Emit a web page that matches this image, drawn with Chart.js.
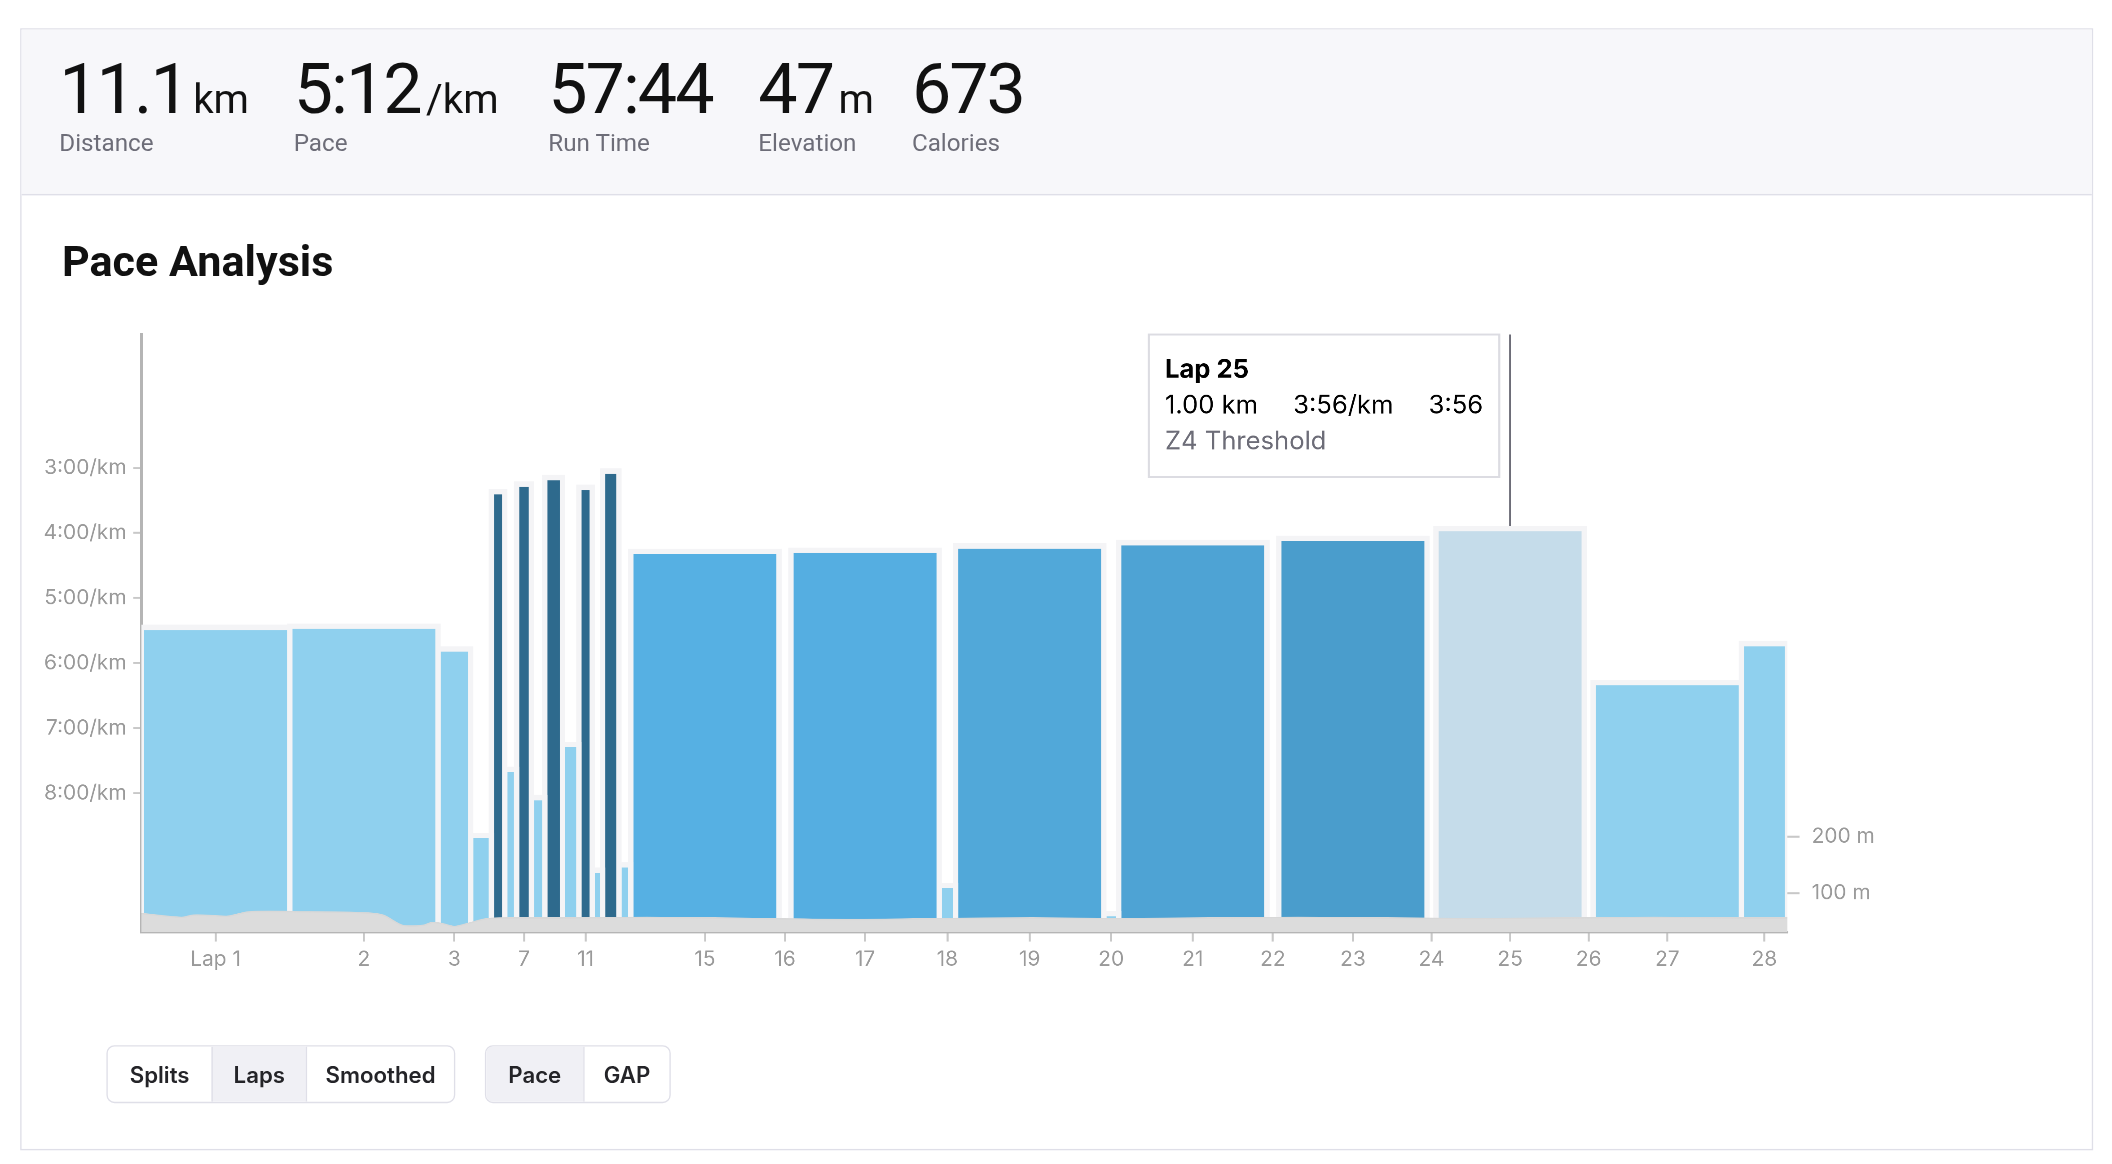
<!DOCTYPE html>
<html>
<head>
<meta charset="utf-8">
<title>Pace Analysis</title>
<script src="https://cdn.jsdelivr.net/npm/chart.js@4.4.1/dist/chart.umd.min.js"></script>
<style>
  html, body { margin: 0; padding: 0; background: #fff; overflow: hidden; }
  #stage {
    position: absolute; left: 0; top: 0; width: 1568px; height: 864px;
    transform-origin: 0 0; transform: scale(1.346939);
    font-family: Roboto, "Noto Sans", sans-serif; color: #242428;
  }
  .card { position: absolute; left: 15px; top: 21px; width: 1539px; height: 833px;
          box-sizing: border-box; border: 1px solid #dfdfe8; }
  .head { position: absolute; left: 16px; top: 22px; width: 1537px; height: 123px;
          box-sizing: border-box; background: #f7f7fa; border-bottom: 1px solid #dfdfe8; }
  .num { position: absolute; top: 41px; font-size: 52px; line-height: 52px; letter-spacing: -1.5px; color: #111; white-space: nowrap; }
  .num span { font-size: 30px; letter-spacing: 0; margin-left: 4px; }
  .lbl { position: absolute; top: 97px; font-size: 18px; line-height: 18px; color: #6d6d78; }
  h2 { position: absolute; left: 46px; top: 178px; margin: 0; font-size: 32px; line-height: 32px; font-weight: 700; color: #111; }
  #chartBox { position: absolute; left: 15px; top: 230px; width: 1538px; height: 520px; }
  .grp { position: absolute; top: 776px; height: 43px; display: flex; box-sizing: border-box;
         border: 1.5px solid #dfdfe8; border-radius: 6px; overflow: hidden;
         font-family: Inter, sans-serif; font-weight: 600; font-size: 16.5px; color: #242428; }
  .grp div { display: flex; align-items: center; justify-content: center; height: 100%; box-sizing: border-box; }
  .grp div + div { border-left: 1.5px solid #dfdfe8; }
  .grp .on { background: #f0f0f5; }
</style>
</head>
<body>
<div id="stage">
  <div class="card"></div>
  <div class="head"></div>

  <div class="num" style="left:44px">11.1<span>km</span></div>
  <div class="lbl" style="left:44px">Distance</div>
  <div class="num" style="left:218px">5:12<span>/km</span></div>
  <div class="lbl" style="left:218px">Pace</div>
  <div class="num" style="left:407px">57:44</div>
  <div class="lbl" style="left:407px">Run Time</div>
  <div class="num" style="left:563px">47<span>m</span></div>
  <div class="lbl" style="left:563px">Elevation</div>
  <div class="num" style="left:677px">673</div>
  <div class="lbl" style="left:677px">Calories</div>

  <h2>Pace Analysis</h2>

  <div id="chartBox"><canvas id="paceChart" width="1538" height="520"></canvas></div>

  <div class="grp" style="left:79px">
    <div style="width:77px">Splits</div>
    <div class="on" style="width:70px">Laps</div>
    <div style="width:110px">Smoothed</div>
  </div>
  <div class="grp" style="left:360px">
    <div class="on" style="width:72px">Pace</div>
    <div style="width:64px">GAP</div>
  </div>
</div>

<script>
// ---------------- data ----------------
// lap distance in km
const lapDistances = [1.00, 1.00, 0.22, 0.14, 0.09, 0.08, 0.10, 0.09, 0.12, 0.11,
                      0.09, 0.07, 0.11, 0.08, 1.00, 0.08, 1.00, 0.11, 1.00, 0.10,
                      1.00, 0.08, 1.00, 0.06, 1.00, 0.06, 1.00, 0.31];
// lap pace in seconds per km
const lapPaces = [327, 326, 347, 519, 202, 458, 195, 484, 189, 435,
                  198, 551, 183, 546, 257, 690, 256, 565, 252, 591,
                  249, 700, 245, 720, 236, 720, 378, 342];
// laps that get a label on the distance axis
const labeledLaps = [1, 2, 3, 7, 11, 15, 16, 17, 18, 19, 20, 21, 22, 23, 24, 25, 26, 27, 28];
const paceTicks = [180, 240, 300, 360, 420, 480];
const elevTicks = [100, 200];
// elevation profile
const elevKm = [0, 0.27, 0.35, 0.5, 0.58, 0.73, 1.08, 1.51, 1.63, 1.76, 1.90, 1.96, 2.03, 2.11, 2.21,
                2.34, 2.8, 3.41, 4.19, 4.78, 5.36, 6.01, 6.6, 7.2, 7.8, 8.4, 9.0, 9.6, 10.2, 10.8, 11.1];
const elevM = [64, 57, 61, 60, 59, 67, 67, 65, 61, 43, 43, 48, 46, 41, 47,
               55, 56, 57, 55, 53, 55, 56, 55, 56, 57, 56, 55, 56, 57, 56, 56];
const activeLap = 25;

// axis ranges
const paceMin = 57, paceMax = 608;
const elevMin = 31, elevMax = 1088;

// ---------------- helpers ----------------
function fmtTime(sec) {
  sec = Math.round(sec);
  const m = Math.floor(sec / 60);
  const s = sec - m * 60;
  return m + ':' + String(s).padStart(2, '0');
}

function zoneName(pace) {
  if (pace < 210) return 'Z6 Anaerobic';
  if (pace < 230) return 'Z5 VO2 Max';
  if (pace < 250) return 'Z4 Threshold';
  if (pace < 280) return 'Z3 Tempo';
  if (pace < 340) return 'Z2 Endurance';
  return 'Z1 Active Recovery';
}

function lapColor(pace, lap) {
  if (lap === activeLap) return '#c5dcea';
  if (pace < 225) return '#2e6a8d';
  if (pace > 300) return '#8fd0ee';
  const t = Math.min(1, Math.max(0, (257 - pace) / 12));
  const a = [86, 176, 227], b = [74, 157, 204];
  const c = a.map((v, k) => Math.round(v + (b[k] - v) * t));
  return 'rgb(' + c.join(',') + ')';
}

const lapStarts = [];
const lapEnds = [];
let run = 0;
lapDistances.forEach(d => { lapStarts.push(run); run += d; lapEnds.push(run); });
const totalKm = run;
const lapCenters = lapStarts.map((s, i) => (s + lapEnds[i]) / 2);

// ---------------- datasets ----------------
const lapDatasets = lapPaces.map((pace, i) => ({
  label: 'Lap ' + (i + 1),
  yAxisID: 'y',
  data: [
    { x: lapStarts[i], y: paceMax },
    { x: lapStarts[i], y: pace },
    { x: lapEnds[i], y: pace },
    { x: lapEnds[i], y: paceMax }
  ],
  fill: 'start',
  backgroundColor: lapColor(pace, i + 1),
  borderColor: '#f4f4f6',
  borderWidth: 4,
  borderJoinStyle: 'miter',
  pointRadius: 0,
  pointHoverRadius: 0,
  pointHitRadius: 0,
  tension: 0,
  order: 1
}));

const elevDataset = {
  label: 'Elevation',
  yAxisID: 'yElev',
  data: elevKm.map((d, i) => ({ x: d, y: elevM[i] })),
  fill: 'start',
  backgroundColor: '#dcdcdc',
  borderColor: '#d8d8d8',
  borderWidth: 1,
  pointRadius: 0,
  pointHoverRadius: 0,
  tension: 0.3,
  order: 0
};

// tooltip sits at the top of the chart, just left of the marker line
let tipShift = 0;
Chart.Tooltip.positioners.lapTop = function (items) {
  if (!items.length) return false;
  const chart = this.chart;
  const lap = items[0].datasetIndex; // dataset 0 is elevation, so dataset n is lap n
  const lineX = chart.scales.x.getPixelForValue(lapCenters[lap - 1]);
  return { x: lineX - 8 + tipShift, y: chart.chartArea.top };
};

const markerLine = {
  id: 'markerLine',
  afterDatasetsDraw(chart) {
    const i = activeLap - 1;
    const x = chart.scales.x.getPixelForValue(lapCenters[i]);
    const yBar = chart.scales.y.getPixelForValue(lapPaces[i]);
    const ctx = chart.ctx;
    ctx.save();
    ctx.strokeStyle = '#6d6d78';
    ctx.lineWidth = 1.5;
    ctx.beginPath();
    ctx.moveTo(x, chart.chartArea.top);
    ctx.lineTo(x, yBar - 2);
    ctx.stroke();
    ctx.restore();
  }
};

const tickFont = { family: 'Inter', size: 15.5 };
const tickColor = '#9a9a9a';

const ctx = document.getElementById('paceChart');
const paceChart = new Chart(ctx, {
  type: 'line',
  data: { datasets: [elevDataset, ...lapDatasets] },
  options: {
    // fixed size: the page is scaled with a css transform
    responsive: false,
    devicePixelRatio: 3,
    animation: false,
    events: [],
    layout: { padding: { top: 18, left: 0, right: 0, bottom: 0 } },
    scales: {
      x: {
        type: 'linear',
        min: 0,
        max: totalKm,
        afterBuildTicks: s => { s.ticks = labeledLaps.map(l => ({ value: lapCenters[l - 1] })); },
        afterFit: s => { s.height = 58; },
        ticks: {
          autoSkip: false, maxRotation: 0, color: tickColor, font: tickFont, padding: 4,
          callback: (v, i) => (labeledLaps[i] === 1 ? 'Lap 1' : String(labeledLaps[i]))
        },
        grid: { drawOnChartArea: false, tickLength: 7, tickColor: '#c8c8c8', tickWidth: 1.5 },
        border: { color: '#b5b5b5', width: 2 }
      },
      y: {
        type: 'linear',
        position: 'left',
        reverse: true,
        min: paceMin,
        max: paceMax,
        afterBuildTicks: s => { s.ticks = paceTicks.map(v => ({ value: v })); },
        afterFit: s => { s.width = 90; },
        ticks: { color: tickColor, font: tickFont, padding: 5, callback: v => fmtTime(v) + '/km' },
        grid: { drawOnChartArea: false, tickLength: 6, tickColor: '#c8c8c8', tickWidth: 1.5 },
        border: { color: '#b5b5b5', width: 2 }
      },
      yElev: {
        type: 'linear',
        position: 'right',
        min: elevMin,
        max: elevMax,
        afterBuildTicks: s => { s.ticks = elevTicks.map(v => ({ value: v })); },
        afterFit: s => { s.width = 226; },
        ticks: { color: tickColor, font: tickFont, padding: 9, callback: v => v + ' m' },
        grid: { drawOnChartArea: false, tickLength: 9, tickColor: '#c8c8c8', tickWidth: 1.5 },
        border: { display: false }
      }
    },
    plugins: {
      legend: { display: false },
      tooltip: {
        enabled: true,
        position: 'lapTop',
        xAlign: 'left',
        yAlign: 'top',
        caretSize: 0,
        caretPadding: 0,
        cornerRadius: 0,
        backgroundColor: '#ffffff',
        borderColor: '#dcdce2',
        borderWidth: 1.5,
        padding: { top: 13, bottom: 13, left: 12, right: 12 },
        displayColors: false,
        titleColor: '#000',
        titleFont: { family: 'Inter', size: 19, weight: 'bold', lineHeight: 1.4 },
        titleMarginBottom: 0,
        bodyColor: '#000',
        bodyFont: { family: 'Inter', size: 19, lineHeight: 1.4 },
        bodySpacing: 0,
        footerColor: '#6d6d78',
        footerFont: { family: 'Inter', size: 19, weight: 'normal', lineHeight: 1.4 },
        footerMarginTop: 0,
        callbacks: {
          title: items => 'Lap ' + (items[0].datasetIndex),
          label: item => {
            const i = item.datasetIndex - 1;
            const gap = '\u2003 \u200a';
            return lapDistances[i].toFixed(2) + ' km' + gap +
                   fmtTime(lapPaces[i]) + '/km' + gap +
                   fmtTime(lapPaces[i] * lapDistances[i]);
          },
          footer: items => zoneName(lapPaces[items[0].datasetIndex - 1])
        }
      }
    }
  },
  plugins: [markerLine]
});

// show the hovered lap
const tip = paceChart.tooltip;
const lineX = paceChart.scales.x.getPixelForValue(lapCenters[activeLap - 1]);
tip.setActiveElements([{ datasetIndex: activeLap, index: 1 }], { x: lineX, y: paceChart.chartArea.top });
// second pass: put the box's right edge just left of the marker line
tipShift = (lineX - 8 - tip.width) - tip.x;
tip.update(true);
paceChart.update();
</script>
</body>
</html>
